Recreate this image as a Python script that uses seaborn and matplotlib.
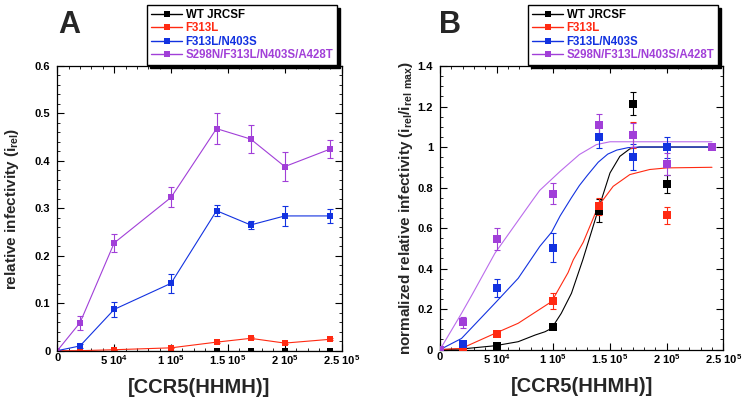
import numpy as np
import pandas as pd
import matplotlib
matplotlib.use("Agg")
import matplotlib.pyplot as plt
from matplotlib.lines import Line2D
from matplotlib.ticker import MultipleLocator
import seaborn as sns

# ---------------- data ----------------
series_names = ["WT JRCSF", "F313L", "F313L/N403S", "S298N/F313L/N403S/A428T"]
series_colors = ["#000000", "#ff2a12", "#1232e0", "#a13fd8"]
fit_colors = ["#000000", "#ff2a12", "#1232e0", "#bb6cec"]

ccr5 = [0, 20000, 50000, 100000, 140000, 170000, 200000, 240000]

# Panel A: relative infectivity
a_wt = [0, 0, 0, 0, 0, 0, 0, 0]
a_wt_err = [0, 0, 0, 0, 0, 0, 0, 0]
a_f313l = [0, 0.0, 0.002, 0.006, 0.018, 0.026, 0.016, 0.024]
a_f313l_err = [0, 0, 0, 0.001, 0.002, 0.002, 0.002, 0.002]
a_double = [0, 0.010, 0.087, 0.142, 0.295, 0.265, 0.284, 0.284]
a_double_err = [0, 0.004, 0.015, 0.020, 0.011, 0.008, 0.021, 0.015]
a_quad = [0, 0.059, 0.227, 0.323, 0.468, 0.446, 0.388, 0.425]
a_quad_err = [0, 0.015, 0.019, 0.021, 0.033, 0.030, 0.030, 0.019]

# Panel B: normalized relative infectivity
b_wt = [0, 0.0, 0.017, 0.11, 0.686, 1.214, 0.818, 1.0]
b_wt_err = [0, 0, 0.005, 0.01, 0.055, 0.058, 0.045, 0]
b_f313l = [0, 0.006, 0.077, 0.24, 0.707, 1.06, 0.662, 1.0]
b_f313l_err = [0, 0.004, 0.012, 0.041, 0.041, 0.065, 0.041, 0]
b_double = [0, 0.03, 0.303, 0.504, 1.05, 0.951, 0.999, 1.0]
b_double_err = [0, 0.0, 0.045, 0.07, 0.053, 0.062, 0.052, 0]
b_quad = [0, 0.135, 0.547, 0.77, 1.11, 1.058, 0.918, 1.0]
b_quad_err = [0, 0.027, 0.054, 0.052, 0.052, 0.06, 0.054, 0]

# Panel B: fitted curves
fit_wt_x = [0, 19000, 48500, 69000, 84000, 92600, 98500, 107000, 116000, 126000, 139600, 150000, 158700, 167500, 176000, 240000]
fit_wt_y = [0, 0.003, 0.019, 0.039, 0.072, 0.088, 0.105, 0.179, 0.278, 0.443, 0.69, 0.872, 0.954, 0.991, 1.0, 1.0]
fit_f313l_x = [0, 19000, 48500, 69000, 98500, 113000, 117600, 126400, 139600, 152800, 167500, 185000, 200000, 240000]
fit_f313l_y = [0, 0.006, 0.08, 0.13, 0.237, 0.38, 0.443, 0.53, 0.707, 0.806, 0.864, 0.889, 0.897, 0.9]
fit_double_x = [0, 19000, 48500, 69000, 88000, 98500, 106000, 116000, 123000, 130000, 139600, 148000, 156000, 166000, 176000, 240000]
fit_double_y = [0, 0.055, 0.229, 0.352, 0.509, 0.58, 0.66, 0.75, 0.81, 0.86, 0.925, 0.965, 0.985, 0.997, 1.0, 1.0]
fit_quad_x = [0, 19000, 28000, 48500, 82000, 88000, 106000, 123000, 138000, 150000, 240000]
fit_quad_y = [0, 0.179, 0.268, 0.476, 0.74, 0.786, 0.88, 0.963, 1.012, 1.026, 1.026]

x_ticks = [0, 50000, 100000, 150000, 200000, 250000]
x_tick_labels = ["0", "5 10$^{4}$", "1 10$^{5}$", "1.5 10$^{5}$", "2 10$^{5}$", "2.5 10$^{5}$"]
a_y_ticks = [0, 0.1, 0.2, 0.3, 0.4, 0.5, 0.6]
a_y_tick_labels = ["0", "0.1", "0.2", "0.3", "0.4", "0.5", "0.6"]
b_y_ticks = [0, 0.2, 0.4, 0.6, 0.8, 1.0, 1.2, 1.4]
b_y_tick_labels = ["0", "0.2", "0.4", "0.6", "0.8", "1", "1.2", "1.4"]

# ---------------- style ----------------
sns.set_theme(style="ticks")
plt.rcParams["font.family"] = ["Liberation Sans", "DejaVu Sans"]
plt.rcParams["font.weight"] = "bold"
plt.rcParams["mathtext.default"] = "regular"
plt.rcParams["axes.linewidth"] = 0.9
plt.rcParams["axes.edgecolor"] = "black"

fig = plt.figure(figsize=(7.45, 4.0), dpi=100)
axA = fig.add_axes([0.0769, 0.1233, 0.3817, 0.7117])
axB = fig.add_axes([0.5906, 0.126, 0.3803, 0.709])

ms = 5
lw = 0.8


def style_axes(ax, yticks, ylabels, ymax, yminor):
    ax.set_xlim(0, 250000)
    ax.set_ylim(0, ymax)
    ax.set_xticks(x_ticks)
    ax.set_xticklabels(x_tick_labels)
    ax.set_yticks(yticks)
    ax.set_yticklabels(ylabels)
    ax.xaxis.set_minor_locator(MultipleLocator(10000))
    ax.yaxis.set_minor_locator(MultipleLocator(yminor))
    ax.tick_params(which="both", direction="in", top=True, right=True,
                   colors="black", labelsize=8)
    ax.tick_params(which="major", length=5, width=0.8)
    ax.tick_params(which="minor", length=2.5, width=0.6)
    ax.tick_params(axis="x", which="major", pad=2)
    ax.tick_params(axis="y", which="major", pad=5)
    for lab in ax.get_xticklabels() + ax.get_yticklabels():
        lab.set_fontweight("bold")
    ax.set_xlabel("[CCR5(HHMH)]", fontsize=14.5, fontweight="bold", labelpad=8)
    for s in ax.spines.values():
        s.set_visible(True)
        s.set_color("black")


# Panel A
a_vals = [a_wt, a_f313l, a_double, a_quad]
a_errs = [a_wt_err, a_f313l_err, a_double_err, a_quad_err]
for name, col, yv, ye in zip(series_names, series_colors, a_vals, a_errs):
    df = pd.DataFrame({"x": ccr5, "y": yv})
    sns.lineplot(data=df, x="x", y="y", ax=axA, color=col, marker="s",
                 markersize=ms, markeredgewidth=0, linewidth=lw, sort=False,
                 errorbar=None, legend=False)
    axA.errorbar(ccr5, yv, yerr=ye, fmt="none", ecolor=col, elinewidth=0.8,
                 capsize=2, capthick=0.8)
style_axes(axA, a_y_ticks, a_y_tick_labels, 0.6, 0.02)
axA.set_ylabel("relative infectivity (i$_{rel}$)", fontsize=11,
               fontweight="bold", labelpad=10)

# Panel B
b_vals = [b_wt, b_f313l, b_double, b_quad]
b_errs = [b_wt_err, b_f313l_err, b_double_err, b_quad_err]
fits = [(fit_wt_x, fit_wt_y), (fit_f313l_x, fit_f313l_y),
        (fit_double_x, fit_double_y), (fit_quad_x, fit_quad_y)]
for (fx, fy), fcol in zip(fits, fit_colors):
    sns.lineplot(x=fx, y=fy, ax=axB, color=fcol, linewidth=lw, sort=False,
                 errorbar=None, legend=False)
for col, yv, ye in zip(series_colors, b_vals, b_errs):
    axB.errorbar(ccr5, yv, yerr=ye, fmt="none", ecolor=col, elinewidth=0.8,
                 capsize=2, capthick=0.8)
    sns.scatterplot(x=ccr5, y=yv, ax=axB, color=col, marker="s", s=26,
                    linewidth=0, legend=False, zorder=3)
style_axes(axB, b_y_ticks, b_y_tick_labels, 1.4, 0.05)
axB.set_ylabel("normalized relative infectivity (i$_{rel}$/i$_{rel\\ max}$)",
               fontsize=11, fontweight="bold", labelpad=2)

# Legends
handles = [Line2D([], [], color=c, marker="s", markersize=ms,
                  markeredgewidth=0, linewidth=1) for c in series_colors]
for ax, anchor in [(axA, (147 / 745, 1 - 5 / 400)), (axB, (528 / 745, 1 - 5 / 400))]:
    leg = ax.legend(handles, series_names, loc="upper left",
                    bbox_to_anchor=anchor, bbox_transform=fig.transFigure,
                    borderaxespad=0, frameon=True, fancybox=False,
                    shadow={"facecolor": "black", "edgecolor": "black", "alpha": 1},
                    framealpha=1, edgecolor="black",
                    handlelength=2.7, handletextpad=0.3, labelspacing=0.12,
                    borderpad=0.35, prop={"weight": "bold", "size": 8.3})
    leg.get_frame().set_linewidth(1.0)
    for txt, c in zip(leg.get_texts(), series_colors):
        txt.set_color(c)

fig.text(69 / 745, 1 - 25 / 400, "A", fontsize=22, fontweight="bold",
         ha="center", va="center")
fig.text(450 / 745, 1 - 25 / 400, "B", fontsize=22, fontweight="bold",
         ha="center", va="center")

fig.savefig("out.png", dpi=100)
